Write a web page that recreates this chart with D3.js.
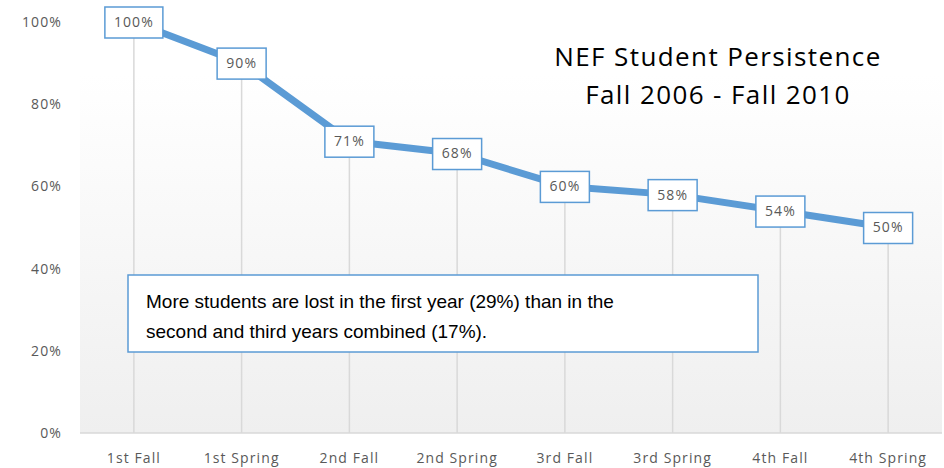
<!DOCTYPE html>
<html>
<head>
<meta charset="utf-8">
<script src="https://cdn.jsdelivr.net/npm/d3@7"></script>
<style>
  body { margin: 0; background: #fff; }
  svg { display: block; }
</style>
</head>
<body>
<svg id="chart" width="944" height="468"></svg>
<script>
// chart data
var terms = ["1st Fall", "1st Spring", "2nd Fall", "2nd Spring",
             "3rd Fall", "3rd Spring", "4th Fall", "4th Spring"];
var persistence = [100, 90, 71, 68, 60, 58, 54, 50];
var yTicks = [0, 20, 40, 60, 80, 100];
var titleLines = ["NEF Student Persistence", "Fall 2006 - Fall 2010"];
var noteLines = ["More students are lost in the first year (29%) than in the",
                 "second and third years combined (17%)."];

var svg = d3.select("#chart"),
    margin = {top: 22, right: 2, bottom: 35, left: 80},
    width = +svg.attr("width") - margin.left - margin.right,
    height = +svg.attr("height") - margin.top - margin.bottom;

var blue = "#5b9bd5", grey = "#595959";

var x = d3.scaleBand().domain(terms).range([0, width]);
var y = d3.scaleLinear().domain([0, 100]).range([height, 0]);

var g = svg.append("g")
    .attr("transform", "translate(" + margin.left + "," + margin.top + ")");

// background gradient of the plot area
var grad = svg.append("defs").append("linearGradient")
    .attr("id", "bg").attr("x1", 0).attr("y1", 0).attr("x2", 0).attr("y2", 1);
grad.append("stop").attr("offset", "0%").attr("stop-color", "#ffffff");
grad.append("stop").attr("offset", "100%").attr("stop-color", "#efefef");

g.append("rect")
    .attr("x", 0).attr("y", 53)
    .attr("width", width).attr("height", height - 53)
    .attr("fill", "url(#bg)");

// y axis labels
g.selectAll(".ytick")
    .data(yTicks)
  .enter().append("text")
    .attr("class", "ytick")
    .attr("x", -18)
    .attr("y", function (d) { return y(d); })
    .attr("dy", "0.35em")
    .attr("text-anchor", "end")
    .attr("font-family", "Open Sans, sans-serif")
    .attr("font-size", 14)
    .attr("letter-spacing", 1.1)
    .attr("fill", grey)
    .text(function (d) { return d + "%"; });

// baseline
g.append("line")
    .attr("x1", 0).attr("x2", width)
    .attr("y1", y(0)).attr("y2", y(0))
    .attr("stroke", "#d9d9d9").attr("stroke-width", 1.5);

// drop lines
g.selectAll(".drop")
    .data(persistence)
  .enter().append("line")
    .attr("class", "drop")
    .attr("x1", function (d, i) { return x(terms[i]) + x.bandwidth() / 2; })
    .attr("x2", function (d, i) { return x(terms[i]) + x.bandwidth() / 2; })
    .attr("y1", function (d) { return y(d); })
    .attr("y2", y(0))
    .attr("stroke", "#d9d9d9").attr("stroke-width", 1.5);

// x axis labels
g.selectAll(".xtick")
    .data(terms)
  .enter().append("text")
    .attr("class", "xtick")
    .attr("x", function (d) { return x(d) + x.bandwidth() / 2; })
    .attr("y", height + 25)
    .attr("dy", "0.35em")
    .attr("text-anchor", "middle")
    .attr("font-family", "Open Sans, sans-serif")
    .attr("font-size", 14)
    .attr("letter-spacing", 1.1)
    .attr("fill", grey)
    .text(function (d) { return d; });

// the line
var line = d3.line()
    .x(function (d, i) { return x(terms[i]) + x.bandwidth() / 2; })
    .y(function (d) { return y(d); });

g.append("path")
    .datum(persistence)
    .attr("d", line)
    .attr("fill", "none")
    .attr("stroke", blue)
    .attr("stroke-width", 7)
    .attr("stroke-linejoin", "round");

// data labels
var labels = g.selectAll(".lbl")
    .data(persistence)
  .enter().append("g")
    .attr("class", "lbl")
    .attr("transform", function (d, i) {
      return "translate(" + (x(terms[i]) + x.bandwidth() / 2) + "," + y(d) + ")";
    });

labels.append("rect")
    .attr("x", function (d) { return d >= 100 ? -29 : -24.5; })
    .attr("y", -15)
    .attr("width", function (d) { return d >= 100 ? 58 : 49; })
    .attr("height", 31)
    .attr("fill", "#fff")
    .attr("stroke", blue)
    .attr("stroke-width", 1.5);

labels.append("text")
    .attr("text-anchor", "middle")
    .attr("dy", "0.35em")
    .attr("font-family", "Open Sans, sans-serif")
    .attr("font-size", 14)
    .attr("letter-spacing", 1.1)
    .attr("fill", grey)
    .text(function (d) { return d + "%"; });

// title
svg.append("g").selectAll("text")
    .data(titleLines)
  .enter().append("text")
    .attr("x", 718)
    .attr("y", function (d, i) { return 57 + i * 38; })
    .attr("dy", "0.35em")
    .attr("text-anchor", "middle")
    .attr("font-family", "Open Sans, sans-serif")
    .attr("font-size", 26)
    .attr("letter-spacing", 1.4)
    .attr("fill", "#000")
    .text(function (d) { return d; });

// note box
var note = svg.append("g");
note.append("rect")
    .attr("x", 128).attr("y", 275)
    .attr("width", 630).attr("height", 77)
    .attr("fill", "#fff")
    .attr("stroke", blue)
    .attr("stroke-width", 1.5);

note.selectAll("text")
    .data(noteLines)
  .enter().append("text")
    .attr("x", 146)
    .attr("y", function (d, i) { return 301 + i * 30; })
    .attr("dy", "0.35em")
    .attr("font-family", "Liberation Sans, Arial, sans-serif")
    .attr("font-size", 19)
    .attr("fill", "#000")
    .text(function (d) { return d; });
</script>
</body>
</html>
